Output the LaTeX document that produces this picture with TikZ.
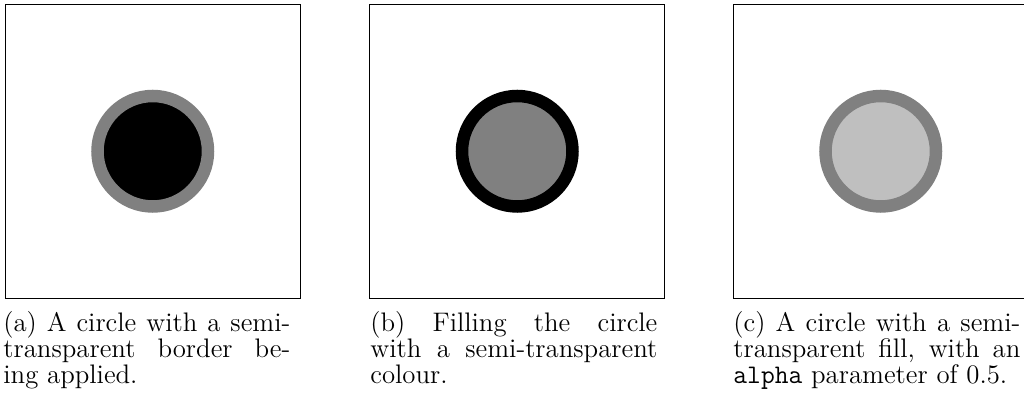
\documentclass[tikz,border=0pt]{standalone}
\usepackage{fontspec}
\tikzset{
  panel/.style={draw=black, line width=0.55pt, minimum width=147.5pt, minimum height=147pt, inner sep=0pt, fill=white},
  ring/.style={circle, minimum size=55.25pt, inner sep=0pt, line width=6.25pt},
  captext/.style={anchor=base west, inner sep=0pt, text width=143.5pt, align=justify,
    font=\fontsize{13.4pt}{13pt}\selectfont}
}
\begin{document}
\begin{tikzpicture}[x=0.5pt,y=-0.5pt]
\useasboundingbox (0,0) rectangle (1024,410);
\clip (0,0) rectangle (1024,410);
% panels
\node[panel] (pa) at (152.75,151.25) {};
\node[panel] (pb) at (517.25,151.25) {};
\node[panel] (pc) at (880.75,151.25) {};
% circles
\node[ring, fill=black, draw=black!50] (ca) at (pa.center) {};
\node[ring, fill=black!50, draw=black] (cb) at (pb.center) {};
\node[ring, fill=black!25, draw=black!50] (cc) at (pc.center) {};
% captions
\node[captext] (ta) at (3,332) {(a) A circle with a semi-\linebreak transparent border be-\linebreak ing applied.};
\node[captext] (tb) at (370,332) {(b) Filling the circle\linebreak with a semi-transparent\linebreak colour.};
\node[captext] (tc) at (733,332) {(c) A circle with a semi-\linebreak transparent fill, with an\linebreak \texttt{alpha} parameter of 0.5.};
\end{tikzpicture}
\end{document}
